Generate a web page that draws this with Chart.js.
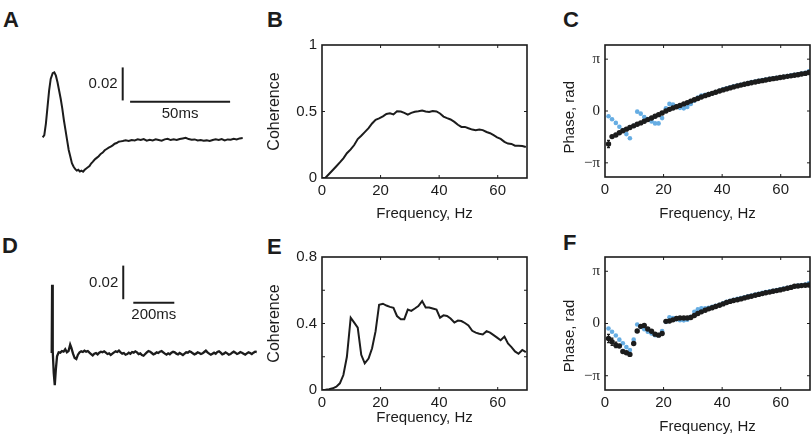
<!DOCTYPE html>
<html>
<head>
<meta charset="utf-8">
<script src="https://cdn.jsdelivr.net/npm/chart.js@4.4.1/dist/chart.umd.min.js"></script>
<style>
  body { margin: 0; background: #fff; width: 812px; height: 437px; overflow: hidden; position: relative; }
  canvas { position: absolute; }
  .lbl { position: absolute; font-family: 'Liberation Sans', Arial, sans-serif; font-weight: bold; font-size: 22px; line-height: 22px; color: #1c1c1c; }
</style>
</head>
<body>
<div class="lbl" style="left:3px;top:9px">A</div>
<div class="lbl" style="left:267px;top:9px">B</div>
<div class="lbl" style="left:563px;top:9px">C</div>
<div class="lbl" style="left:2px;top:235px">D</div>
<div class="lbl" style="left:267px;top:236px">E</div>
<div class="lbl" style="left:563px;top:232px">F</div>

<canvas id="cA" width="210" height="120" style="left:40px;top:60px"></canvas>
<canvas id="cB" width="275" height="195" style="left:255px;top:31px"></canvas>
<canvas id="cC" width="274" height="195" style="left:538px;top:31px"></canvas>
<canvas id="cD" width="215" height="130" style="left:45px;top:262px"></canvas>
<canvas id="cE" width="275" height="197" style="left:255px;top:243px"></canvas>
<canvas id="cF" width="274" height="197" style="left:538px;top:243px"></canvas>

<script>
// averaged waveform, panel A (time in ms)
const traceATime = [0, 0.8, 1.6, 2.4, 3.2, 4.0, 5.0, 5.8, 6.6, 7.4, 8.2, 9.0, 9.8, 10.6, 11.4, 12.2, 13.0, 13.8, 14.6, 15.4,
  16.2, 17.0, 17.8, 18.6, 19.4, 20.2, 21.0, 21.8, 22.6, 23.4, 24.2, 25.0, 26.0, 27.0, 28.0, 29.0, 30.0, 31.0, 32.0, 33.0,
  34.0, 35.0, 36.0, 37.0, 38.0, 39.0, 40.0, 41.5, 43.0, 44.5, 46.0, 47.5, 49.0, 50.5, 52.0, 53.5, 55.0, 56.5, 58.0, 59.5,
  61.0, 62.5, 64.0, 65.5, 67.0, 68.5, 70.0, 71.5, 73.0, 74.5, 76.0, 77.5, 79.0, 80.5, 82.0, 83.5, 85.0, 86.5, 88.0, 89.5,
  91.0, 92.5, 94.0, 95.5, 97.0, 98.5, 100.0];
const traceAValue = [-0.0004, 0.001, 0.008, 0.018, 0.028, 0.035, 0.0385, 0.039, 0.037, 0.033, 0.028, 0.023, 0.017, 0.010, 0.004, -0.002, -0.008, -0.012, -0.016, -0.018,
  -0.0195, -0.0205, -0.0200, -0.0210, -0.0205, -0.0212, -0.0200, -0.0192, -0.0185, -0.0178, -0.0162, -0.0152, -0.0138, -0.0128, -0.0118, -0.0104, -0.0096, -0.0082, -0.0074, -0.0066,
  -0.0060, -0.0052, -0.0042, -0.0038, -0.0030, -0.0028, -0.0026, -0.0022, -0.0026, -0.0020, -0.0022, -0.0016, -0.0020, -0.0014, -0.0024, -0.0018, -0.0022, -0.0016, -0.0020, -0.0024,
  -0.0016, -0.0012, -0.0020, -0.0016, -0.0020, -0.0014, -0.0010, -0.0006, -0.0014, -0.0018, -0.0016, -0.0022, -0.0020, -0.0024, -0.0022, -0.0026, -0.0020, -0.0016, -0.0020, -0.0014,
  -0.0022, -0.0016, -0.0018, -0.0012, -0.0016, -0.0010, -0.0008];

// averaged waveform, panel D (time in ms)
const traceDTime = [0, 2, 5, 10, 15, 20, 26, 34, 42, 50,
  58, 66, 74, 82, 90, 96, 104, 112, 120, 128,
  136, 144, 152, 160, 168, 176, 184, 192, 200, 208,
  216, 224, 232, 240, 248, 256, 264, 272, 280, 288,
  296, 304, 312, 320, 328, 336, 344, 352, 360, 368,
  376, 384, 392, 400, 408, 416, 424, 432, 440, 448,
  456, 464, 472, 480, 488, 496, 504, 512, 520, 528,
  536, 544, 552, 560, 568, 576, 584, 592, 600, 608,
  616, 624, 632, 640, 648, 656, 664, 672, 680, 688,
  696, 704, 712, 720, 728, 736, 744, 752, 760, 768,
  776, 784, 792, 800, 808, 816, 824, 832, 840, 848,
  856, 864, 872, 880, 888, 896, 904, 912, 920, 928,
  936, 944, 952, 960, 968, 976, 984, 992, 1000];
const traceDValue = [0, 0.0406, 0.001, -0.012, -0.0192, -0.010, -0.002, 0.0004, 0.0002, 0.0012,
  0.0008, 0.0022, 0.0004, 0.0012, 0.0050, 0.0030, -0.0004, -0.0030, -0.0036, -0.0010,
  0.0004, 0.0010, 0.0006, 0.0014, 0.0008, 0.0012, 0.0002, -0.0006, -0.0014, -0.0004,
  0.0000, -0.0008, 0.0002, 0.0008, 0.0004, 0.0010, 0.0002, -0.0006, -0.0002, -0.0012,
  -0.0004, 0.0004, 0.0010, 0.0006, 0.0014, 0.0004, -0.0004, 0.0000, -0.0010, -0.0006,
  0.0002, -0.0004, 0.0006, 0.0002, 0.0010, 0.0004, -0.0006, -0.0002, -0.0012, -0.0016,
  -0.0006, 0.0004, 0.0012, 0.0008, 0.0000, -0.0008, -0.0004, 0.0004, 0.0000, 0.0008,
  0.0012, 0.0004, -0.0004, -0.0010, -0.0002, -0.0008, 0.0002, 0.0008, 0.0004, -0.0004,
  -0.0008, 0.0000, -0.0006, -0.0012, -0.0004, 0.0004, 0.0002, 0.0010, 0.0006, -0.0002,
  -0.0008, -0.0004, 0.0004, 0.0000, -0.0006, -0.0002, 0.0006, 0.0014, 0.0004, -0.0004,
  -0.0010, -0.0004, 0.0002, -0.0004, 0.0006, 0.0010, 0.0002, -0.0008, -0.0004, 0.0004,
  -0.0002, -0.0010, -0.0006, 0.0002, 0.0008, 0.0002, -0.0006, -0.0002, 0.0006, 0.0002,
  -0.0004, -0.0010, -0.0002, 0.0004, 0.0000, -0.0006, 0.0002, 0.0008, 0.0006];

// spectral estimates, frequency in Hz
const freqs = [0, 1.2, 2.4, 3.7, 4.9, 6.1, 7.3, 8.5, 9.8, 11.0, 12.2, 13.4, 14.6, 15.9, 17.1, 18.3, 19.5, 20.8, 22.0, 23.2,
  24.4, 25.6, 26.9, 28.1, 29.3, 30.5, 31.7, 32.9, 34.2, 35.4, 36.6, 37.8, 39.1, 40.3, 41.5, 42.7, 43.9, 45.2, 46.4, 47.6,
  48.8, 50.0, 51.3, 52.5, 53.7, 54.9, 56.2, 57.4, 58.6, 59.8, 61.0, 62.3, 63.5, 64.7, 65.9, 67.1, 68.4, 69.6];
const cohB = [0, 0.002, 0.03, 0.06, 0.088, 0.117, 0.148, 0.186, 0.215, 0.248, 0.293, 0.318, 0.345, 0.375, 0.41, 0.438, 0.448, 0.463, 0.482, 0.487,
  0.478, 0.502, 0.5, 0.49, 0.477, 0.49, 0.498, 0.502, 0.507, 0.5, 0.497, 0.503, 0.5, 0.485, 0.462, 0.45, 0.44, 0.422, 0.4, 0.384,
  0.384, 0.374, 0.364, 0.359, 0.364, 0.36, 0.346, 0.337, 0.322, 0.306, 0.294, 0.272, 0.259, 0.256, 0.243, 0.243, 0.24, 0.233];
const cohE = [0, 0.001, 0.005, 0.01, 0.02, 0.04, 0.09, 0.2, 0.435, 0.405, 0.375, 0.212, 0.16, 0.189, 0.251, 0.354, 0.513, 0.519, 0.508, 0.5,
  0.494, 0.445, 0.426, 0.426, 0.484, 0.476, 0.49, 0.505, 0.535, 0.496, 0.496, 0.49, 0.484, 0.435, 0.449, 0.445, 0.43, 0.406, 0.418, 0.415,
  0.403, 0.388, 0.356, 0.345, 0.338, 0.334, 0.354, 0.345, 0.33, 0.315, 0.299, 0.321, 0.28, 0.258, 0.232, 0.218, 0.241, 0.228];
const phaseBlackC = [null, -2.0, -1.55, -1.45, -1.32, -1.2, -1.1, -1.0, -0.9, -0.8, -0.72, -0.62, -0.52, -0.42, -0.32, -0.22, -0.12, 0.0, 0.1, 0.18,
  0.26, 0.34, 0.43, 0.51, 0.6, 0.68, 0.76, 0.85, 0.93, 1.0, 1.07, 1.14, 1.21, 1.28, 1.34, 1.4, 1.46, 1.52, 1.57, 1.62,
  1.67, 1.71, 1.76, 1.8, 1.84, 1.88, 1.92, 1.96, 1.99, 2.03, 2.06, 2.1, 2.13, 2.17, 2.2, 2.24, 2.28, 2.33];
const phaseBlueC = [null, -0.32, -0.5, -0.72, -0.95, -1.15, -1.4, -1.65, -0.9, -0.04, -0.16, -0.36, -0.49, -0.63, -0.75, -0.75, -0.43, 0.16, 0.43, 0.39,
  0.29, 0.19, 0.16, 0.25, 0.43, 0.62, 0.82, 0.94, 0.98, 1.02, 1.08, 1.15, 1.23, 1.31, 1.38, 1.43, 1.5, 1.55, 1.59, 1.64,
  1.7, 1.75, 1.79, 1.83, 1.88, 1.91, 1.95, 1.98, 2.01, 2.05, 2.08, 2.12, 2.16, 2.19, 2.23, 2.27, 2.32, 2.4];
const phaseBlackF = [null, -0.9, -1.1, -1.3, -1.35, -1.68, -1.76, -1.86, -1.2, -0.45, -0.17, -0.12, -0.33, -0.47, -0.64, -0.7, -0.6, 0.13, 0.15, 0.22,
  0.3, 0.33, 0.33, 0.33, 0.36, 0.48, 0.6, 0.7, 0.8, 0.88, 0.95, 1.02, 1.1, 1.18, 1.26, 1.33, 1.38, 1.43, 1.48, 1.54,
  1.59, 1.64, 1.7, 1.75, 1.8, 1.85, 1.89, 1.94, 1.98, 2.02, 2.07, 2.12, 2.17, 2.24, 2.26, 2.28, 2.3, 2.32];
const phaseBlueF = [null, -0.3, -0.5, -0.72, -0.97, -1.19, -1.42, -1.6, -0.97, -0.06, -0.2, -0.35, -0.5, -0.6, -0.7, -0.7, -0.45, 0.1, 0.37, 0.33,
  0.25, 0.2, 0.19, 0.23, 0.4, 0.7, 0.86, 0.91, 0.92, 0.95, 1.0, 1.06, 1.13, 1.22, 1.3, 1.37, 1.42, 1.48, 1.53, 1.58,
  1.63, 1.68, 1.74, 1.79, 1.84, 1.89, 1.93, 1.97, 2.01, 2.06, 2.1, 2.15, 2.19, 2.24, 2.28, 2.31, 2.35, 2.42];

// error bars on the first black points
const errFreqC = [1.2];
const errLowC = [-2.22];
const errHighC = [-1.78];
const errFreqF = [1.2, 2.4, 3.7];
const errLowF = [-1.15, -1.32, -1.45];
const errHighF = [-0.66, -0.88, -1.12];

// ticks
const freqTicks = [0, 20, 40, 60];
const cohBTicks = [0, 0.5, 1];
const cohBLabels = ['0', '0.5', '1'];
const cohETicks = [0, 0.2, 0.4, 0.6, 0.8];
const cohELabels = ['0', '', '0.4', '', '0.8'];
const phaseTicks = [-Math.PI, 0, Math.PI];
const phaseLabels = ['\u2212\u03c0', '0', '\u03c0'];

// scale bars (data units of each trace)
const scaleBarA = { t: 40, v: 0.022, dv: 0.02, vText: '0.02', t0: 43.7, dt: 50, h: 0.0212, hText: '50ms' };
const scaleBarD = { t: 349, v: 0.032, dv: 0.02, vText: '0.02', t0: 398, dt: 200, h: 0.0299, hText: '200ms' };

const BLACK = '#1c1c1c';
const BLUE = '#66ade3';
const SANS = "'Liberation Sans', Arial, sans-serif";
const SERIF = "'Liberation Serif', 'Times New Roman', serif";

Chart.defaults.font.family = SANS;
Chart.defaults.color = BLACK;

function pts(xs, ys) {
  return xs.map((x, i) => ({ x: x, y: ys[i] === null ? NaN : ys[i] }));
}

function errorSegments(fs, lo, hi, cap) {
  const out = [];
  fs.forEach((f, i) => {
    out.push({ x: f, y: lo[i] }, { x: f, y: hi[i] }, { x: f, y: NaN });
    out.push({ x: f - cap, y: lo[i] }, { x: f + cap, y: lo[i] }, { x: f, y: NaN });
    out.push({ x: f - cap, y: hi[i] }, { x: f + cap, y: hi[i] }, { x: f, y: NaN });
  });
  return out;
}

// matlab style box with inward ticks
const framePlugin = {
  id: 'frame',
  afterDraw(chart) {
    const ctx = chart.ctx, a = chart.chartArea, x = chart.scales.x, y = chart.scales.y;
    ctx.save();
    ctx.strokeStyle = BLACK;
    ctx.lineWidth = 1.6;
    ctx.strokeRect(a.left, a.top, a.right - a.left, a.bottom - a.top);
    ctx.lineWidth = 1;
    ctx.beginPath();
    x.ticks.forEach(t => {
      const p = x.getPixelForValue(t.value);
      if (p <= a.left + 1 || p >= a.right - 1) return;
      ctx.moveTo(p, a.bottom); ctx.lineTo(p, a.bottom - 3);
      ctx.moveTo(p, a.top); ctx.lineTo(p, a.top + 3);
    });
    y.ticks.forEach(t => {
      const p = y.getPixelForValue(t.value);
      if (p <= a.top + 1 || p >= a.bottom - 1) return;
      ctx.moveTo(a.left, p); ctx.lineTo(a.left + 3, p);
      ctx.moveTo(a.right, p); ctx.lineTo(a.right - 3, p);
    });
    ctx.stroke();
    ctx.restore();
  }
};

function freqAxis(height, titlePad) {
  return {
    type: 'linear', min: 0, max: 70,
    afterBuildTicks: s => { s.ticks = freqTicks.map(v => ({ value: v })); },
    afterFit: s => { s.height = height; },
    grid: { display: false, drawTicks: false },
    border: { display: false },
    ticks: { autoSkip: false, maxRotation: 0, padding: 4, font: { size: 15 }, callback: v => String(v) },
    title: { display: true, text: 'Frequency, Hz', font: { size: 15 }, padding: { top: 0, bottom: titlePad } }
  };
}

function valueAxis(min, max, tickVals, tickLabels, title, titleSize, titlePad, tickFont) {
  return {
    type: 'linear', min: min, max: max,
    afterBuildTicks: s => { s.ticks = tickVals.map(v => ({ value: v })); },
    afterFit: s => { s.width = 67; },
    grid: { display: false, drawTicks: false },
    border: { display: false },
    ticks: { autoSkip: false, padding: 5, font: tickFont, callback: (v, i) => tickLabels[i] },
    title: { display: true, text: title, font: { size: titleSize }, padding: { top: titlePad, bottom: 0 } }
  };
}

const baseOptions = {
  responsive: false,
  animation: false,
  events: [],
  plugins: { legend: { display: false }, tooltip: { enabled: false } }
};

function traceChart(id, times, values, bar, xMin, xMax, yMin, yMax, width) {
  const barText = {
    id: 'barText',
    afterDraw(chart) {
      const ctx = chart.ctx, x = chart.scales.x, y = chart.scales.y;
      ctx.save();
      ctx.fillStyle = BLACK;
      ctx.font = '15px ' + SANS;
      ctx.textBaseline = 'middle';
      ctx.textAlign = 'right';
      ctx.fillText(bar.vText, x.getPixelForValue(bar.t) - 5, y.getPixelForValue(bar.v + bar.dv / 2));
      ctx.textAlign = 'center';
      ctx.fillText(bar.hText, x.getPixelForValue(bar.t0 + bar.dt / 2), y.getPixelForValue(bar.h) + 12);
      ctx.restore();
    }
  };
  const line = { showLine: true, borderColor: BLACK, borderWidth: 2, pointRadius: 0 };
  new Chart(document.getElementById(id), {
    type: 'scatter',
    data: {
      datasets: [
        Object.assign({}, line, { data: pts(times, values), borderWidth: width }),
        Object.assign({}, line, { data: [{ x: bar.t, y: bar.v }, { x: bar.t, y: bar.v + bar.dv }] }),
        Object.assign({}, line, { data: [{ x: bar.t0, y: bar.h }, { x: bar.t0 + bar.dt, y: bar.h }] })
      ]
    },
    options: Object.assign({}, baseOptions, {
      layout: { autoPadding: false, padding: 0 },
      scales: {
        x: { type: 'linear', display: false, min: xMin, max: xMax },
        y: { type: 'linear', display: false, min: yMin, max: yMax }
      }
    }),
    plugins: [barText]
  });
}

function coherenceChart(id, values, xHeight, xTitlePad, yMax, yTicks, yLabels, yTitlePad) {
  new Chart(document.getElementById(id), {
    type: 'scatter',
    data: { datasets: [{ data: pts(freqs, values), showLine: true, borderColor: BLACK, borderWidth: 2, pointRadius: 0 }] },
    options: Object.assign({}, baseOptions, {
      layout: { autoPadding: false, padding: { top: 10, right: 3, left: 0, bottom: 0 } },
      scales: {
        x: freqAxis(xHeight, xTitlePad),
        y: valueAxis(0, yMax, yTicks, yLabels, 'Coherence', 16, yTitlePad, { size: 15 })
      }
    }),
    plugins: [framePlugin]
  });
}

function phaseChart(id, black, blue, errF, errLo, errHi, xHeight, xTitlePad, yTitle) {
  new Chart(document.getElementById(id), {
    type: 'scatter',
    data: {
      datasets: [
        { data: errorSegments(errF, errLo, errHi, 0.5), showLine: true, borderColor: BLACK, borderWidth: 1.3, pointRadius: 0, spanGaps: false },
        { data: pts(freqs, black), pointRadius: 2.7, pointBorderWidth: 0, pointBackgroundColor: BLACK },
        { data: pts(freqs, blue), pointRadius: 2.3, pointBorderWidth: 0, pointBackgroundColor: BLUE }
      ]
    },
    options: Object.assign({}, baseOptions, {
      layout: { autoPadding: false, padding: { top: 10, right: 2, left: 0, bottom: 0 } },
      scales: {
        x: freqAxis(xHeight, xTitlePad),
        y: valueAxis(-4, 4, phaseTicks, phaseLabels, yTitle, 15, 23, { size: 15, family: SERIF })
      }
    }),
    plugins: [framePlugin]
  });
}

traceChart('cA', traceATime, traceAValue, scaleBarA, -1.35, 103.65, -0.0262, 0.0465, 2);
traceChart('cD', traceDTime, traceDValue, scaleBarD, -32.7, 1016, -0.0232, 0.05415, 2.3);

coherenceChart('cB', cohB, 48, 3, 1, cohBTicks, cohBLabels, 10);
coherenceChart('cE', cohE, 50, 13, 0.8, cohETicks, cohELabels, 10);

// trailing spaces push the rotated label down, as in the figure
phaseChart('cC', phaseBlackC, phaseBlueC, errFreqC, errLowC, errHighC, 49, 3, 'Phase, rad\u00a0\u00a0\u00a0');
phaseChart('cF', phaseBlackF, phaseBlueF, errFreqF, errLowF, errHighF, 50, 4, 'Phase, rad\u00a0\u00a0\u00a0\u00a0\u00a0\u00a0');
</script>
</body>
</html>
